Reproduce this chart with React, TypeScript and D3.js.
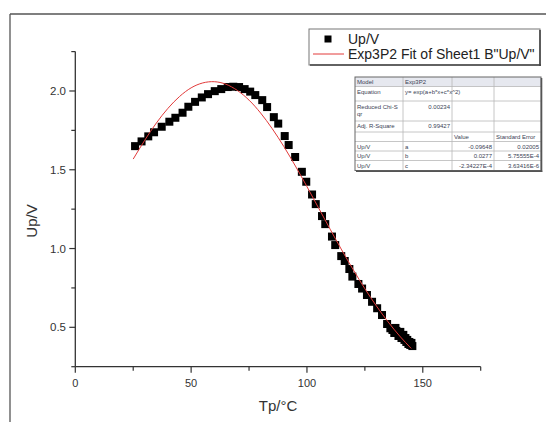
import React from 'react';
import * as d3 from 'd3';

// measured points (Tp in °C, Up in V)
const tempC = [25.8, 28.6, 31.5, 34.0, 37.3, 40.6, 43.2, 46.3, 48.8, 51.7, 54.6, 57.3, 60.2, 63.0, 65.8, 68.2, 70.7, 73.1, 75.5, 77.7,
  80.7, 82.8, 85.7, 87.6, 90.4, 92.1, 94.9, 97.8, 99.7, 102.2, 103.8, 106.5, 107.9, 110.8, 112.2, 114.8, 116.3, 118.3, 119.6, 122.2,
  123.8, 125.9, 128.1, 130.3, 132.4, 134.6, 136.0, 136.9, 137.7, 138.2, 138.6, 139.5, 139.9, 140.3, 140.8, 141.2, 141.6, 142.1, 142.5, 142.9,
  143.3, 143.8, 144.2, 144.6, 145.1, 145.5];
const upV = [1.650, 1.680, 1.712, 1.738, 1.773, 1.805, 1.830, 1.862, 1.900, 1.931, 1.959, 1.980, 1.999, 2.012, 2.025, 2.027, 2.025, 2.012, 1.996, 1.974,
  1.942, 1.898, 1.834, 1.793, 1.714, 1.657, 1.581, 1.487, 1.424, 1.343, 1.282, 1.206, 1.155, 1.076, 1.022, 0.952, 0.921, 0.870, 0.822, 0.775,
  0.746, 0.705, 0.662, 0.621, 0.578, 0.521, 0.494, 0.483, 0.464, 0.496, 0.477, 0.445, 0.458, 0.471, 0.432, 0.445, 0.452, 0.420, 0.432, 0.407,
  0.420, 0.394, 0.407, 0.388, 0.401, 0.381];

// fit curve
const fitT = [25, 30, 35, 40, 45, 50, 55, 60, 65, 70, 75, 80, 85, 90, 95, 100, 105, 110, 115, 120, 125, 130, 135, 140, 145];
const fitU = [1.568, 1.688, 1.797, 1.890, 1.965, 2.020, 2.051, 2.059, 2.043, 2.003, 1.942, 1.860, 1.761, 1.648, 1.524, 1.393, 1.258, 1.123, 0.991, 0.865, 0.745, 0.635, 0.535, 0.445, 0.366];

const xTicks = [0, 50, 100, 150];
const xMinor = [25, 75, 125, 175];
const yTicks = [0.5, 1.0, 1.5, 2.0];
const yMinor = [0.25, 0.75, 1.25, 1.75, 2.25];

const legendLabels = ['Up/V', 'Exp3P2 Fit of Sheet1 B"Up/V"'];

// fit report table
const colEdges = [355, 403, 452, 494, 541];
const rowEdges = [77, 86.5, 101, 121, 132, 141.5, 151, 160.5, 170.5];
const tableRows = [
  ['Model', 'Exp3P2', '', ''],
  ['Equation', 'y= exp(a+b*x+c*x^2)', '', ''],
  ['Reduced Chi-S|qr', '0.00234', '', ''],
  ['Adj. R-Square', '0.99427', '', ''],
  ['', '', 'Value', 'Standard Error'],
  ['Up/V', 'a', '-0.09648', '0.02005'],
  ['Up/V', 'b', '0.0277', '5.75555E-4'],
  ['Up/V', 'c', '-2.34227E-4', '3.63416E-6'],
];

const font = '"Liberation Sans", Arial, sans-serif';

export default function App() {
  const x = d3.scaleLinear().domain([0, 175]).range([75.3, 480.7]);
  const y = d3.scaleLinear().domain([0.25, 2.25]).range([366.7, 51.6]);
  const x0 = x(0), y0 = y(0.25);

  const line = d3.line<number>()
    .x((_, i) => x(fitT[i]))
    .y(d => y(d))
    .curve(d3.curveNatural);

  const sq = 8;

  const cellText = (row: string[], ri: number) => {
    const top = rowEdges[ri];
    const out: React.ReactNode[] = [];
    row.forEach((t, ci) => {
      if (!t) return;
      const numeric = ri === 2 || ri === 3 ? ci === 1 : (ri >= 5 && ci >= 2);
      const lines = t.split('|');
      lines.forEach((ln, li) => {
        const baseY = ri === 1 ? top + 7.5 : (lines.length > 1 || ri === 2) ? top + 8 + li * 7 : top + 7.2;
        out.push(
          <text key={`${ri}-${ci}-${li}`}
            x={numeric ? colEdges[ci + 1] - 2 : colEdges[ci] + 2}
            y={baseY}
            textAnchor={numeric ? 'end' : 'start'}
            fontSize={6}
            fill="#3a3f55">{ln}</text>
        );
      });
    });
    return out;
  };

  return (
    <div style={{ position: 'absolute', left: 0, top: 0 }}>
      <svg width={546} height={422} style={{ display: 'block', background: '#fff', fontFamily: font }}>
        {/* outer frame */}
        <line x1={10} y1={14} x2={546} y2={14} stroke="#555" strokeWidth={1.3} />
        <line x1={10} y1={14} x2={10} y2={422} stroke="#555" strokeWidth={1.3} />

        {/* axes */}
        <line x1={x0} y1={y0} x2={x(175)} y2={y0} stroke="#333" strokeWidth={1.3} />
        <line x1={x0} y1={y0} x2={x0} y2={y(2.25)} stroke="#333" strokeWidth={1.3} />
        {xTicks.map(t => (
          <g key={`xt${t}`}>
            <line x1={x(t)} x2={x(t)} y1={y0} y2={y0 + 6} stroke="#333" strokeWidth={1.2} />
            <text x={x(t)} y={387} textAnchor="middle" fontSize={11} fill="#333">{t}</text>
          </g>
        ))}
        {xMinor.map(t => (
          <line key={`xm${t}`} x1={x(t)} x2={x(t)} y1={y0} y2={y0 + 4} stroke="#333" strokeWidth={1.2} />
        ))}
        {yTicks.map(t => (
          <g key={`yt${t}`}>
            <line x1={x0 - 6} x2={x0} y1={y(t)} y2={y(t)} stroke="#333" strokeWidth={1.2} />
            <text x={66} y={y(t) + 4} textAnchor="end" fontSize={11.5} fill="#333">{t.toFixed(1)}</text>
          </g>
        ))}
        {yMinor.map(t => (
          <line key={`ym${t}`} x1={x0 - 4} x2={x0} y1={y(t)} y2={y(t)} stroke="#333" strokeWidth={1.2} />
        ))}
        <text x={x(87.5)} y={411} textAnchor="middle" fontSize={15} fill="#333">Tp/°C</text>
        <text transform={`translate(37,221) rotate(-90)`} textAnchor="middle" fontSize={15} fill="#333">Up/V</text>

        {/* data */}
        {upV.map((v, i) => (
          <rect key={`p${i}`} x={x(tempC[i]) - sq / 2} y={y(v) - sq / 2} width={sq} height={sq} fill="#000" />
        ))}
        <path d={line(fitU) || ''} fill="none" stroke="#e23a3a" strokeWidth={1} />

        {/* legend */}
        <rect x={309} y={29} width={231} height={36} fill="#fff" stroke="#777" strokeWidth={1} />
        <line x1={540} y1={30} x2={540} y2={66} stroke="#444" strokeWidth={1.6} />
        <line x1={310} y1={65} x2={541} y2={65} stroke="#444" strokeWidth={1.6} />
        <rect x={328 - 3.5} y={39 - 3.5} width={7} height={7} fill="#000" />
        <text x={348} y={44} fontSize={14} fill="#222">{legendLabels[0]}</text>
        <line x1={313} x2={344} y1={54} y2={54} stroke="#e23a3a" strokeWidth={1} />
        <text x={348} y={58.5} fontSize={14} fill="#222">{legendLabels[1]}</text>

        {/* fit table */}
        <rect x={colEdges[0]} y={rowEdges[0]} width={colEdges[4] - colEdges[0]} height={rowEdges[1] - rowEdges[0]} fill="#e6e8ef" />
        {rowEdges.slice(1, -1).map((r, i) => (
          <line key={`hr${i}`} x1={colEdges[0]} x2={colEdges[4]} y1={r} y2={r} stroke="#b8b8b8" strokeWidth={0.8} />
        ))}
        {colEdges.slice(1, -1).map((c, i) => (
          <line key={`vc${i}`} x1={c} x2={c} y1={rowEdges[0]} y2={rowEdges[8]} stroke="#b8b8b8" strokeWidth={0.8} />
        ))}
        <rect x={colEdges[0]} y={rowEdges[0]} width={colEdges[4] - colEdges[0]} height={rowEdges[8] - rowEdges[0]} fill="none" stroke="#666" strokeWidth={1} />
        <line x1={colEdges[4] + 0.5} x2={colEdges[4] + 0.5} y1={rowEdges[0] + 1} y2={rowEdges[8] + 1.5} stroke="#555" strokeWidth={1.6} />
        <line x1={colEdges[0] + 1} x2={colEdges[4] + 1.3} y1={rowEdges[8] + 0.7} y2={rowEdges[8] + 0.7} stroke="#555" strokeWidth={1.6} />
        {tableRows.map((row, ri) => cellText(row, ri))}
      </svg>
    </div>
  );
}
